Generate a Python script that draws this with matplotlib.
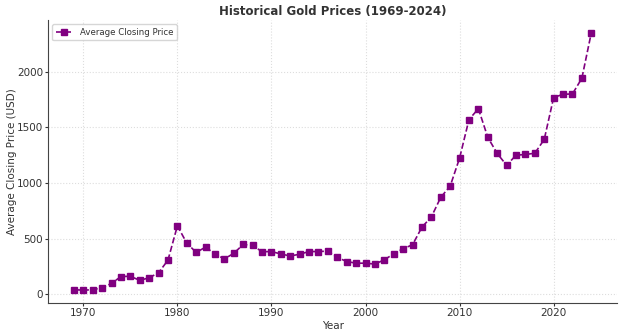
import matplotlib
matplotlib.use("Agg")
import matplotlib.pyplot as plt

# Annual average closing price of gold, USD per ounce
years = list(range(1969, 2025))
prices = [41.10, 35.96, 40.80, 58.16, 97.32, 159.26, 161.02, 124.84, 147.71, 193.22,
          306.68, 615.00, 459.64, 375.91, 424.00, 360.66, 317.66, 368.24, 447.95, 438.31,
          382.58, 383.51, 362.18, 343.73, 359.77, 384.00, 383.79, 387.81, 331.02, 294.24,
          278.98, 279.11, 271.04, 309.73, 363.38, 409.72, 444.74, 603.46, 695.39, 871.96,
          972.35, 1224.53, 1571.52, 1668.98, 1411.23, 1266.40, 1160.06, 1250.74, 1257.12, 1268.49,
          1392.60, 1769.64, 1798.89, 1801.87, 1943.00, 2350.00]

fig, ax = plt.subplots(figsize=(6.24, 3.36), dpi=100)
fig.subplots_adjust(left=0.077, right=0.989, top=0.94, bottom=0.098)

ax.plot(years, prices, color="purple", linestyle="--", marker="s", markersize=4.3,
        linewidth=1.2, label="Average Closing Price")

txt = "#333333"
ax.set_title("Historical Gold Prices (1969-2024)", fontsize=8.5, fontweight="bold", color=txt, pad=4)
ax.set_xlabel("Year", fontsize=7.5, color=txt, labelpad=2)
ax.set_ylabel("Average Closing Price (USD)", fontsize=7.5, color=txt, labelpad=0)
ax.tick_params(labelsize=7.5, length=2, colors=txt, pad=1.5)
ax.set_yticks([0, 500, 1000, 1500, 2000])

ax.grid(True, linestyle=":", color="#dddddd", linewidth=0.8)
for side in ("top", "right"):
    ax.spines[side].set_visible(False)
for side in ("left", "bottom"):
    ax.spines[side].set_color("#444444")

ax.legend(loc="upper left", fontsize=6.2, handlelength=2, borderpad=0.4, labelcolor=txt)

fig.savefig("out.png", dpi=100)
